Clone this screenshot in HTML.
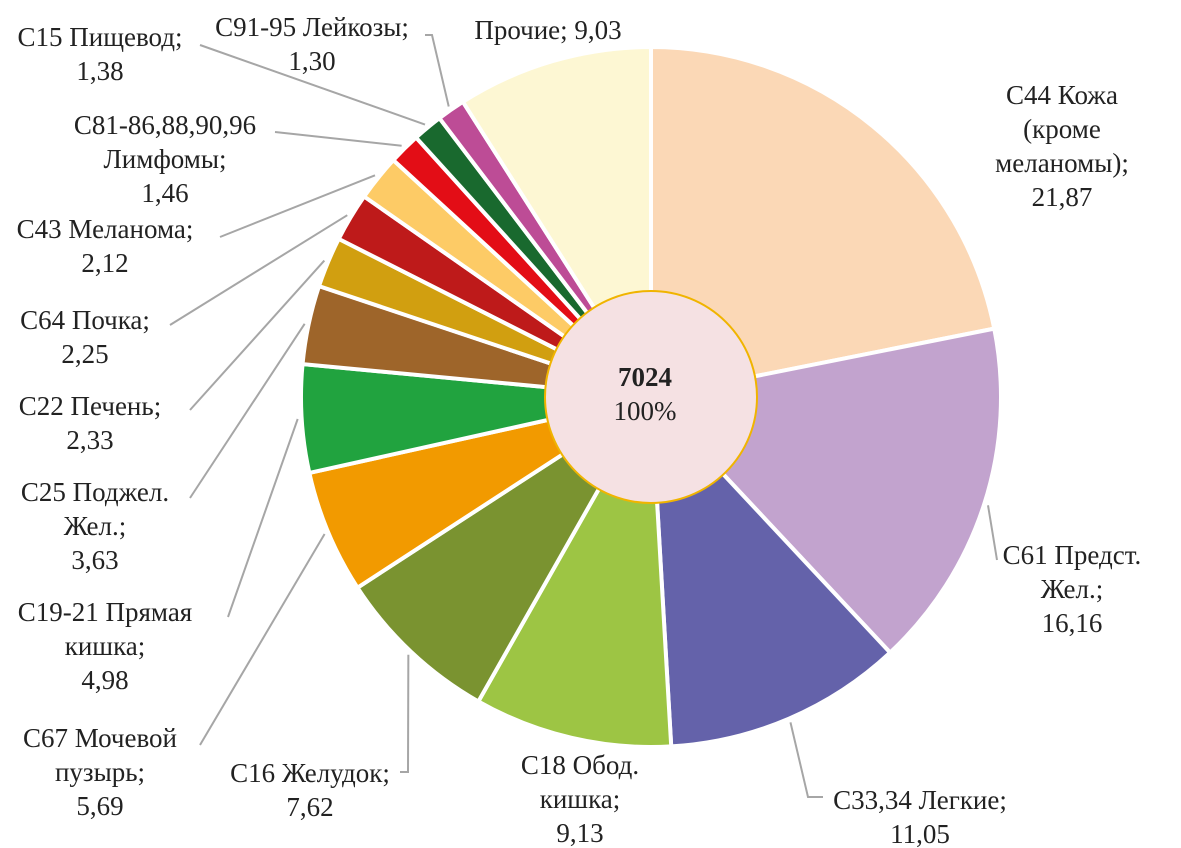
<!DOCTYPE html>
<html><head><meta charset="utf-8"><style>
html,body{margin:0;padding:0;background:#fff}
svg{display:block}
text{font-family:"Liberation Serif",serif;font-size:27px;fill:#222}
</style></head><body>
<svg id="chart" width="1181" height="848" viewBox="0 0 1181 848" xmlns="http://www.w3.org/2000/svg">
<g id="slices"></g>
<g id="leaders"></g>
<g id="labels"></g>
<circle cx="651" cy="397" r="106" fill="#F5E1E3" stroke="#F0B400" stroke-width="2"/>
<text x="645" y="386" text-anchor="middle" font-weight="bold">7024</text>
<text x="645" y="420" text-anchor="middle">100%</text>
</svg>
<script>
const categories=["С44 Кожа (кроме меланомы)","С61 Предст. Жел.","С33,34 Легкие","С18 Обод. кишка","С16 Желудок","С67 Мочевой пузырь","С19-21 Прямая кишка","С25 Поджел. Жел.","С22 Печень","С64 Почка","С43 Меланома","С81-86,88,90,96 Лимфомы","С15 Пищевод","С91-95 Лейкозы","Прочие"];
const values=[21.87,16.16,11.05,9.13,7.62,5.69,4.98,3.63,2.33,2.25,2.12,1.46,1.38,1.30,9.03];
const labelLines=[["С44 Кожа","(кроме","меланомы);"],["С61 Предст.","Жел.;"],["С33,34 Легкие;"],["С18 Обод.","кишка;"],["С16 Желудок;"],["С67 Мочевой","пузырь;"],["С19-21 Прямая","кишка;"],["С25 Поджел.","Жел.;"],["С22 Печень;"],["С64 Почка;"],["С43 Меланома;"],["С81-86,88,90,96","Лимфомы;"],["С15 Пищевод;"],["С91-95 Лейкозы;"],["Прочие;"]];
const colors=["#FBD8B6","#C2A3CE","#6462AA","#9DC544","#7A9330","#F29A00","#21A33F","#9E652A","#D19F10","#BE1A1A","#FDCB66","#E30D16","#19692E","#BD4C96","#FDF7D3"];
const NS="http://www.w3.org/2000/svg";
const cx=651,cy=397,R=350;
const layout=[[1062,95,null],[1072,555,[997,560]],[920,800,[808,797],[823,797]],[580,765,null],[310,773,[408,772],[400,772]],[100,738,[200,745]],[105,612,[228,617]],[95,492,[190,498]],[90,406,[190,410]],[85,320,[170,325]],[105,229,[220,237]],[165,125,[275,132]],[100,37,[200,45]],[312,27,[432,35],[425,35]],[548,30,null]];
const total=values.reduce((a,b)=>a+b,0);
function pt(a,r){return [cx+r*Math.sin(a),cy-r*Math.cos(a)];}
let a0=0;
const gS=document.getElementById('slices'),gL=document.getElementById('leaders'),gT=document.getElementById('labels');
values.forEach((v,i)=>{
  const a1=a0+v/total*2*Math.PI;
  const p0=pt(a0,R),p1=pt(a1,R);
  const large=(a1-a0)>Math.PI?1:0;
  const p=document.createElementNS(NS,'path');
  p.setAttribute('d',`M${cx},${cy}L${p0[0]},${p0[1]}A${R},${R} 0 ${large} 1 ${p1[0]},${p1[1]}Z`);
  p.setAttribute('fill',colors[i]);p.setAttribute('stroke','#fff');p.setAttribute('stroke-width','4');
  
  
  gS.appendChild(p);
  const L=layout[i];
  if(L[2]){
    const m=(a0+a1)/2,s=pt(m,R+4);
    let pts=`${s[0]},${s[1]} ${L[2][0]},${L[2][1]}`;
    if(L[3])pts+=` ${L[3][0]},${L[3][1]}`;
    const pl=document.createElementNS(NS,'polyline');
    pl.setAttribute('points',pts);pl.setAttribute('fill','none');pl.setAttribute('stroke','#A6A6A6');pl.setAttribute('stroke-width','2');
    
    
    gL.appendChild(pl);
  }
  const lines=labelLines[i].slice();
  const val=v.toFixed(2).replace('.',',');
  if(i===14)lines[0]=lines[0]+' '+val;else lines.push(val);
  const t=document.createElementNS(NS,'text');
  t.setAttribute('x',L[0]);t.setAttribute('y',L[1]+9);t.setAttribute('text-anchor','middle');
  
  
  lines.forEach((ln,j)=>{const ts=document.createElementNS(NS,'tspan');ts.setAttribute('x',L[0]);if(j>0)ts.setAttribute('dy','34');ts.textContent=ln;t.appendChild(ts);});
  gT.appendChild(t);
  a0=a1;
});
</script>
</body></html>
